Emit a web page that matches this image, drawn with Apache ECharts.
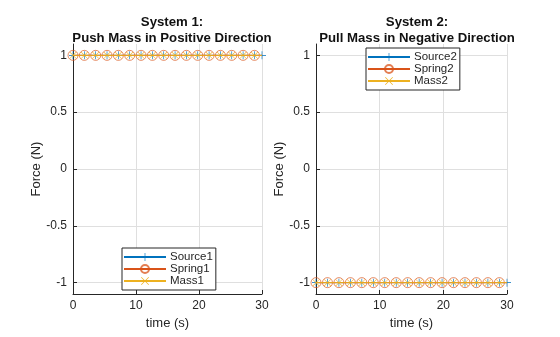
<!DOCTYPE html>
<html><head><meta charset="utf-8">
<script src="https://cdn.jsdelivr.net/npm/echarts@6/dist/echarts.min.js"></script>
<style>html,body{margin:0;padding:0;background:#fff}#c{width:560px;height:337px}</style>
</head><body><div id="c"></div>
<script>
// Data
const time = [0, 1.8, 3.6, 5.4, 7.2, 9, 10.8, 12.6, 14.4, 16.2, 18, 19.8, 21.6, 23.4, 25.2, 27, 28.8, 30];
const source1 = [1,1,1,1,1,1,1,1,1,1,1,1,1,1,1,1,1,1];
const spring1 = [1,1,1,1,1,1,1,1,1,1,1,1,1,1,1,1,1,1];
const mass1   = [1,1,1,1,1,1,1,1,1,1,1,1,1,1,1,1,1,1];
const source2 = [-1,-1,-1,-1,-1,-1,-1,-1,-1,-1,-1,-1,-1,-1,-1,-1,-1,-1];
const spring2 = [-1,-1,-1,-1,-1,-1,-1,-1,-1,-1,-1,-1,-1,-1,-1,-1,-1,-1];
const mass2   = [-1,-1,-1,-1,-1,-1,-1,-1,-1,-1,-1,-1,-1,-1,-1,-1,-1,-1];
const xTicks = [0, 10, 20, 30];
const yTicks = [-1, -0.5, 0, 0.5, 1];
const titles = ['System 1:\nPush Mass in Positive Direction', 'System 2:\nPull Mass in Negative Direction'];
const names1 = ['Source1', 'Spring1', 'Mass1'];
const names2 = ['Source2', 'Spring2', 'Mass2'];

const C = ['#0072BD', '#D95319', '#EDB120'];
const PLUS = 'path://M4.6,0H5.4V10H4.6Z M0,4.6H10V5.4H0Z';
const CROSS = 'path://M0,0.6L0.6,0L10,9.4L9.4,10Z M9.4,0L10,0.6L0.6,10L0,9.4Z';
const FONT = 'Liberation Sans, Arial, Helvetica, sans-serif';

function pts(vals, lastSym) {
  return time.map((t, i) => {
    const d = { value: [t, vals[i]] };
    if (i === time.length - 1 && !lastSym) d.symbol = 'none';
    return d;
  });
}
function mk(name, vals, k, gi) {
  const sym = [PLUS, 'circle', CROSS][k];
  const size = [8, 10, 7][k];
  return {
    name, type: 'line', xAxisIndex: gi, yAxisIndex: gi,
    data: pts(vals, k === 0),
    symbol: sym, symbolSize: size, showSymbol: true,
    lineStyle: { color: C[k], width: 1 },
    itemStyle: k === 1
      ? { color: 'rgba(255,255,255,0)', borderColor: 'rgba(217,83,25,0.75)', borderWidth: 0.9 }
      : { color: C[k], borderWidth: 0 },
    z: 2 + k, clip: false
  };
}
function xAx(gi) {
  return {
    type: 'value', gridIndex: gi, min: 0, max: 30, interval: 10,
    name: 'time (s)', nameLocation: 'middle', nameGap: 20,
    nameTextStyle: { fontSize: 13, color: '#262626', fontFamily: FONT },
    axisLine: { show: true, onZero: false, lineStyle: { color: '#262626', width: 1 } },
    axisTick: { show: true, inside: true, length: 4, lineStyle: { color: '#262626' }, customValues: xTicks },
    axisLabel: { fontSize: 12, color: '#262626', fontFamily: FONT, margin: 6, customValues: xTicks },
    splitLine: { show: true, lineStyle: { color: '#dfdfdf', width: 1 } }
  };
}
function yAx(gi) {
  return {
    type: 'value', gridIndex: gi, min: -1.1, max: 1.1,
    name: 'Force (N)', nameLocation: 'middle', nameGap: 23,
    nameTextStyle: { fontSize: 13, color: '#262626', fontFamily: FONT },
    axisLine: { show: true, onZero: false, lineStyle: { color: '#262626', width: 1 } },
    axisTick: { show: true, inside: true, length: 4, lineStyle: { color: '#262626' }, customValues: yTicks },
    axisLabel: { fontSize: 12, color: '#262626', fontFamily: FONT, margin: 6, customValues: yTicks,
      formatter: v => String(v) },
    splitLine: { show: true, lineStyle: { color: '#dfdfdf', width: 1 } }
  };
}
function leg(names, left, top) {
  return {
    data: names, orient: 'vertical', left, top,
    itemWidth: 42, itemHeight: 10, itemGap: 0,
    padding: [3, 3, 3, 1], borderColor: '#262626', borderWidth: 1, backgroundColor: '#fff',
    textStyle: { fontSize: 11.5, lineHeight: 12, color: '#262626', fontFamily: FONT, padding: [0, 0, 0, -1] }
  };
}
const chart = echarts.init(document.getElementById('c'), null, { renderer: 'canvas' });
chart.setOption({
  animation: false,
  backgroundColor: '#fff',
  title: [
    { text: titles[0], left: 167, top: 9, textAlign: 'center',
      textStyle: { fontSize: 13.2, fontWeight: 'bold', color: '#111', lineHeight: 16, fontFamily: FONT } },
    { text: titles[1], left: 412, top: 9, textAlign: 'center',
      textStyle: { fontSize: 13.2, fontWeight: 'bold', color: '#111', lineHeight: 16, fontFamily: FONT } }
  ],
  grid: [
    { left: 73, right: 298, top: 44, bottom: 43 },
    { left: 316, right: 53, top: 44, bottom: 43 }
  ],
  xAxis: [xAx(0), xAx(1)],
  yAxis: [yAx(0), yAx(1)],
  legend: [leg(names1, 122, 248), leg(names2, 366, 48)],
  series: [
    mk(names1[0], source1, 0, 0), mk(names1[1], spring1, 1, 0), mk(names1[2], mass1, 2, 0),
    mk(names2[0], source2, 0, 1), mk(names2[1], spring2, 1, 1), mk(names2[2], mass2, 2, 1)
  ]
});
</script></body></html>
